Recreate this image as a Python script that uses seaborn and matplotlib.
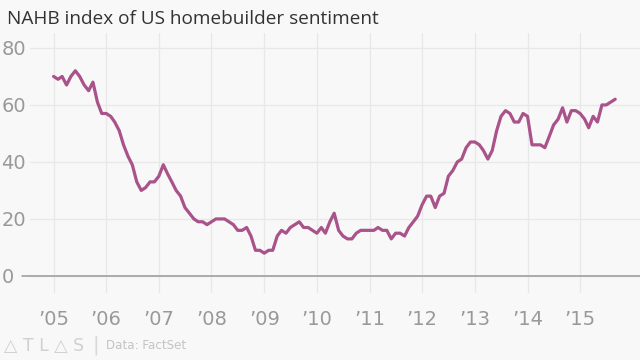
import pandas as pd
import matplotlib.pyplot as plt
import seaborn as sns

# NAHB housing market index, monthly, Jan 2005 - Sep 2015
start_month = '2005-01-01'
hmi = [70, 69, 70, 67, 70, 72, 70, 67, 65, 68, 61, 57,
       57, 56, 54, 51, 46, 42, 39, 33, 30, 31, 33, 33,
       35, 39, 36, 33, 30, 28, 24, 22, 20, 19, 19, 18,
       19, 20, 20, 20, 19, 18, 16, 16, 17, 14, 9, 9,
       8, 9, 9, 14, 16, 15, 17, 18, 19, 17, 17, 16,
       15, 17, 15, 19, 22, 16, 14, 13, 13, 15, 16, 16,
       16, 16, 17, 16, 16, 13, 15, 15, 14, 17, 19, 21,
       25, 28, 28, 24, 28, 29, 35, 37, 40, 41, 45, 47,
       47, 46, 44, 41, 44, 51, 56, 58, 57, 54, 54, 57,
       56, 46, 46, 46, 45, 49, 53, 55, 59, 54, 58, 58,
       57, 55, 52, 56, 54, 60, 60, 61, 62]
years = list(range(2005, 2016))
year_labels = ['\u2019' + str(y)[2:] for y in years]
y_ticks = [0, 20, 40, 60, 80]

df = pd.DataFrame({'date': pd.date_range(start_month, periods=len(hmi), freq='MS'),
                   'hmi': hmi})

sns.set_style('white')
plt.rcParams['font.family'] = ['Liberation Sans Narrow', 'DejaVu Sans']

bg = '#f8f8f8'
fig = plt.figure(figsize=(6.4, 3.6), dpi=100, facecolor=bg)
ax = fig.add_axes([0.047, 0.186, 0.953, 0.722], facecolor=bg)

sns.lineplot(data=df, x='date', y='hmi', ax=ax, color='#aa528a', linewidth=2.3)

ax.set_ylim(-6, 85.2)
ax.set_xlim(pd.Timestamp('2004-07-22'), pd.Timestamp('2016-02-20'))
ax.set_yticks(y_ticks)
ax.set_xticks([pd.Timestamp(f'{y}-01-01') for y in years])
ax.set_xticklabels(year_labels)
ax.grid(True, color='#e8e8e8', linewidth=0.9)
ax.set_axisbelow(True)
ax.axhline(0, xmin=-0.013, color='#999999', linewidth=1.1, clip_on=False, zorder=1)
for s in ax.spines.values():
    s.set_visible(False)
ax.tick_params(axis='both', length=0, labelsize=14, labelcolor='#999999')
ax.tick_params(axis='x', pad=12)
ax.tick_params(axis='y', pad=3)
ax.set_xlabel('')
ax.set_ylabel('')
for lbl in ax.get_yticklabels():
    lbl.set_horizontalalignment('left')
    lbl.set_x(-0.04)

fig.text(0.011, 0.948, 'NAHB index of US homebuilder sentiment', fontsize=13.7,
         color='#333333', family=['Open Sans', 'DejaVu Sans'], va='center')
fig.text(0.007, 0.04, '\u25b3 T L \u25b3 S', fontsize=12.5, color='#d0d0d0',
         family=['DejaVu Sans'], va='center')
fig.text(0.145, 0.04, '|', fontsize=14, color='#d8d8d8', va='center')
fig.text(0.166, 0.04, 'Data: FactSet', fontsize=8.6, color='#c4c4c4', va='center')

plt.savefig('out.png', dpi=100, facecolor=bg)
